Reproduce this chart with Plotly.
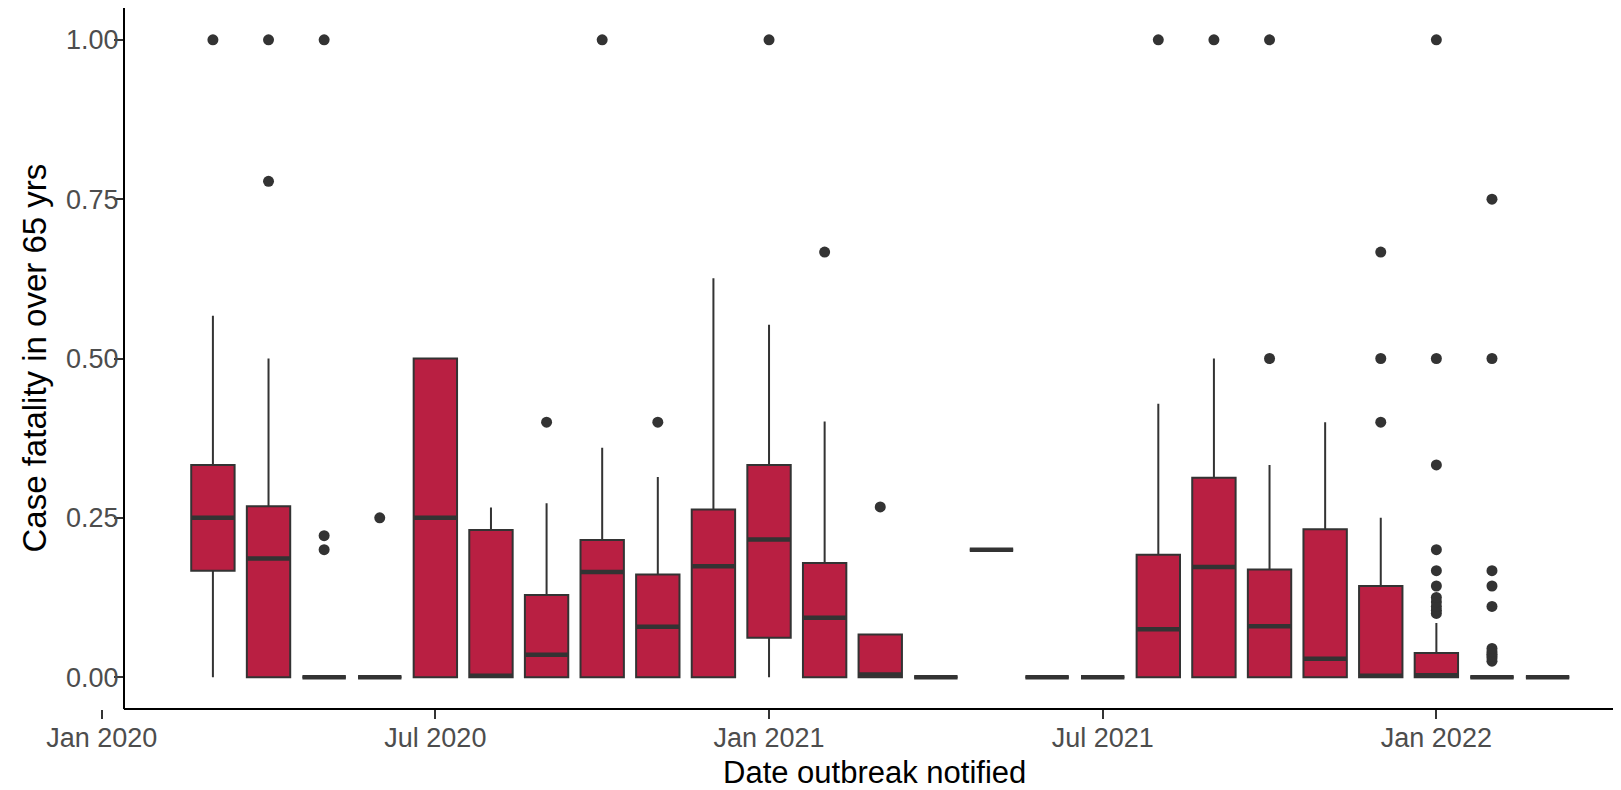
import pandas as pd
import plotly.graph_objects as go

# ---------------- data ----------------
months = ["Mar 2020", "Apr 2020", "May 2020", "Jun 2020", "Jul 2020", "Aug 2020",
          "Sep 2020", "Oct 2020", "Nov 2020", "Dec 2020", "Jan 2021", "Feb 2021",
          "Mar 2021", "Apr 2021", "May 2021", "Jun 2021", "Jul 2021", "Aug 2021",
          "Sep 2021", "Oct 2021", "Nov 2021", "Dec 2021", "Jan 2022", "Feb 2022",
          "Mar 2022"]
q1 = [0.167, 0, 0, 0, 0, 0, 0, 0, 0, 0, 0.062, 0, 0, 0, 0.2, 0, 0, 0, 0, 0, 0, 0, 0, 0, 0]
median = [0.25, 0.186, 0, 0, 0.25, 0.002, 0.035, 0.165, 0.079, 0.174, 0.216, 0.093, 0.004,
          0, 0.2, 0, 0, 0.075, 0.173, 0.080, 0.029, 0.002, 0.003, 0, 0]
q3 = [0.333, 0.268, 0, 0, 0.5, 0.231, 0.129, 0.215, 0.161, 0.263, 0.333, 0.179, 0.067,
      0, 0.2, 0, 0, 0.192, 0.313, 0.169, 0.232, 0.143, 0.038, 0, 0]
lower = [0.0, 0, 0, 0, 0, 0, 0, 0, 0, 0, 0.0, 0, 0, 0, 0.2, 0, 0, 0, 0, 0, 0, 0, 0, 0, 0]
upper = [0.567, 0.5, 0, 0, 0.5, 0.266, 0.273, 0.36, 0.314, 0.626, 0.553, 0.401, 0.067,
         0, 0.2, 0, 0, 0.429, 0.5, 0.333, 0.4, 0.25, 0.085, 0, 0]

outlier_months = (["Mar 2020"] + ["Apr 2020"] * 2 + ["May 2020"] * 3 + ["Jun 2020"]
                  + ["Sep 2020", "Oct 2020", "Nov 2020", "Jan 2021", "Feb 2021", "Mar 2021",
                     "Aug 2021", "Sep 2021"]
                  + ["Oct 2021"] * 2 + ["Dec 2021"] * 3 + ["Jan 2022"] * 11 + ["Feb 2022"] * 11)
outlier_values = ([1.0] + [0.778, 1.0] + [0.2, 0.222, 1.0] + [0.25]
                  + [0.4, 1.0, 0.4, 1.0, 0.667, 0.267, 1.0, 1.0]
                  + [0.5, 1.0] + [0.4, 0.5, 0.667]
                  + [0.1, 0.105, 0.111, 0.118, 0.125, 0.143, 0.167, 0.2, 0.333, 0.5, 1.0]
                  + [0.025, 0.03, 0.033, 0.036, 0.04, 0.045, 0.111, 0.143, 0.167, 0.5, 0.75])

tick_labels = ["Jan 2020", "Jul 2020", "Jan 2021", "Jul 2021", "Jan 2022"]
y_ticks = [0, 0.25, 0.5, 0.75, 1.0]


def month_index(label):
    ts = pd.to_datetime(label, format="%b %Y")
    return (ts.year - 2020) * 12 + ts.month - 1


x = [month_index(m) for m in months]
x_out = [month_index(m) for m in outlier_months]
tick_vals = [month_index(t) for t in tick_labels]

# ---------------- styling ----------------
FILL = "#B91F42"
LINE = "#333333"
BOX_W = 0.78
X_RANGE = [-0.39, 27.32]
PANEL_LEFT = 0.40  # where the y axis line sits, in month units
PANEL_MID = 13.9   # centre of the (cropped) ggplot panel, in month units
Y_POS = (PANEL_LEFT - X_RANGE[0]) / (X_RANGE[1] - X_RANGE[0])
TITLE_X = (PANEL_MID - X_RANGE[0]) / (X_RANGE[1] - X_RANGE[0])
FONT = "Liberation Sans, Arial, sans-serif"

fig = go.Figure()

fig.add_trace(go.Box(
    x=x, q1=q1, median=median, q3=q3, lowerfence=lower, upperfence=upper,
    width=BOX_W, fillcolor=FILL, line=dict(color=LINE, width=2),
    whiskerwidth=0, boxpoints=False, hoverinfo="skip", showlegend=False,
))

# thicker median lines (ggplot fatten)
mx, my = [], []
for xi, m in zip(x, median):
    mx += [xi - BOX_W / 2, xi + BOX_W / 2, None]
    my += [m, m, None]
fig.add_trace(go.Scatter(x=mx, y=my, mode="lines", line=dict(color=LINE, width=4.5),
                         hoverinfo="skip", showlegend=False))

fig.add_trace(go.Scatter(x=x_out, y=outlier_values, mode="markers",
                         marker=dict(color=LINE, size=11), showlegend=False))

fig.update_layout(
    width=1613, height=782,
    margin=dict(l=72, r=0, t=0, b=81),
    plot_bgcolor="white", paper_bgcolor="white",
    font=dict(family=FONT),
    showlegend=False,
    xaxis=dict(
        range=X_RANGE, showgrid=False, zeroline=False, showline=False,
        tickmode="array", tickvals=tick_vals, ticktext=tick_labels,
        ticks="outside", ticklen=9, tickwidth=2, tickcolor=LINE,
        tickfont=dict(size=27, color="#4D4D4D", family=FONT),
        ticklabelstandoff=-4,
        automargin=False,
    ),
    yaxis=dict(
        range=[-0.05, 1.05], anchor="free", position=Y_POS,
        showgrid=False, zeroline=False, showline=True, linecolor="black", linewidth=2,
        tickmode="array", tickvals=y_ticks, ticktext=[f"{v:.2f}" for v in y_ticks],
        ticks="outside", ticklen=9, tickwidth=2, tickcolor=LINE,
        tickfont=dict(size=27, color="#4D4D4D", family=FONT),
        ticklabelstandoff=-10,
        automargin=False,
    ),
    shapes=[dict(type="line", xref="paper", yref="paper", x0=Y_POS, x1=1, y0=0, y1=0,
                 line=dict(color="black", width=2), layer="above")],
    annotations=[
        dict(text="Date outbreak notified", xref="paper", yref="paper",
             x=TITLE_X, y=0, xanchor="center", yanchor="middle", yshift=-63, borderpad=0,
             showarrow=False, font=dict(size=31, color="black", family=FONT)),
        dict(text="Case fatality in over 65 yrs", xref="paper", yref="paper",
             x=0, y=0.5, xanchor="center", yanchor="middle", xshift=-46, textangle=-90,
             borderpad=0, showarrow=False, font=dict(size=33, color="black", family=FONT)),
    ],
)

fig.write_html("out.html")
